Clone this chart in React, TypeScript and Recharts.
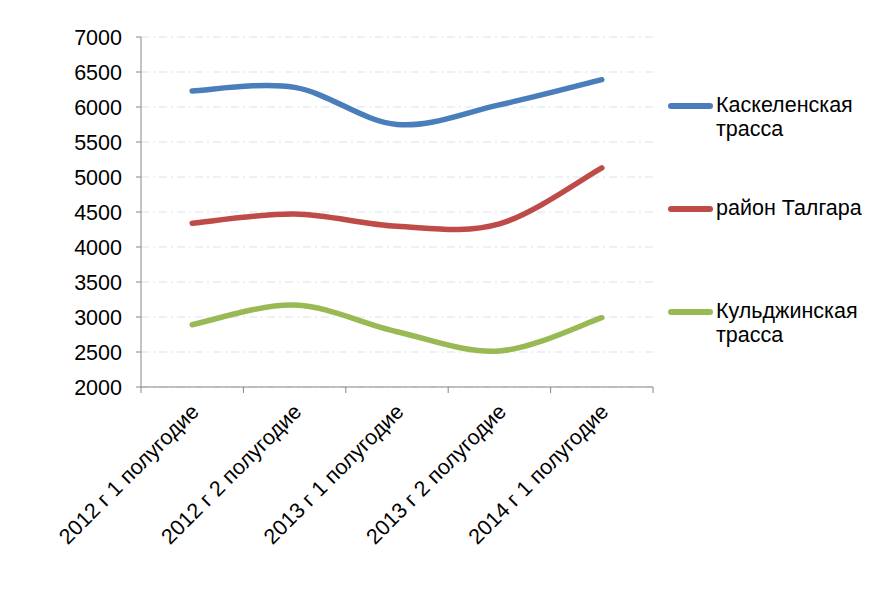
import { LineChart, Line, XAxis, YAxis, CartesianGrid, Legend } from "recharts";

const CATEGORIES = [
  "2012 г 1 полугодие",
  "2012 г 2 полугодие",
  "2013 г 1 полугодие",
  "2013 г 2 полугодие",
  "2014 г 1 полугодие",
];

const SERIES_NAMES = ["Каскеленская трасса", "район Талгара", "Кульджинская трасса"];

const KASKELEN = [6230, 6280, 5750, 6030, 6390];
const TALGAR = [4340, 4470, 4295, 4330, 5130];
const KULDZHA = [2890, 3170, 2790, 2515, 2990];

const Y_TICKS = [2000, 2500, 3000, 3500, 4000, 4500, 5000, 5500, 6000, 6500, 7000];

const FONT = "'Liberation Sans', Arial, sans-serif";
const FONT_SIZE = 21.5;
const AXIS_COLOR = "#868686";
const LABEL_GAP = 26;

// category slots 0..5, each point sits in the middle of its slot
const data = CATEGORIES.map((label, i) => ({
  pos: i + 0.5,
  label,
  kaskelen: KASKELEN[i],
  talgar: TALGAR[i],
  kuldzha: KULDZHA[i],
}));

// slot edges get a tick mark, slot centres get the label
const xTicks = CATEGORIES.flatMap((_, i) => [i, i + 0.5]).concat(CATEGORIES.length);

// Excel-like smoothed line (Catmull-Rom through every point)
function smoothCurve(context: any) {
  let pts: number[][] = [];
  return {
    areaStart() {},
    areaEnd() {},
    lineStart() {
      pts = [];
    },
    point(x: number, y: number) {
      pts.push([+x, +y]);
    },
    lineEnd() {
      if (!pts.length) return;
      context.moveTo(pts[0][0], pts[0][1]);
      for (let i = 0; i < pts.length - 1; i++) {
        const p0 = pts[i - 1] || pts[i];
        const p1 = pts[i];
        const p2 = pts[i + 1];
        const p3 = pts[i + 2] || p2;
        context.bezierCurveTo(
          p1[0] + (p2[0] - p0[0]) / 6,
          p1[1] + (p2[1] - p0[1]) / 6,
          p2[0] - (p3[0] - p1[0]) / 6,
          p2[1] - (p3[1] - p1[1]) / 6,
          p2[0],
          p2[1]
        );
      }
    },
  };
}

const CategoryTick = (props: any) => {
  const { x, y, payload } = props;
  const v = payload.value;
  if (Number.isInteger(v)) {
    const top = y - LABEL_GAP;
    return <line x1={x} y1={top} x2={x} y2={top + 6} stroke={AXIS_COLOR} strokeWidth={1} />;
  }
  const label = CATEGORIES[Math.floor(v)];
  const ax = x + 8;
  return (
    <text
      x={ax}
      y={y}
      textAnchor="end"
      transform={`rotate(-45, ${ax}, ${y})`}
      fontSize={FONT_SIZE}
      fontFamily={FONT}
      fill="#000"
    >
      {label}
    </text>
  );
};

const renderLegend = (props: any) => {
  const { payload } = props;
  const ordered = [...payload].sort(
    (a: any, b: any) => SERIES_NAMES.indexOf(a.value) - SERIES_NAMES.indexOf(b.value)
  );
  return (
    <div style={{ fontFamily: FONT }}>
      {ordered.map((entry: any) => (
        <div
          key={entry.value}
          style={{ display: "flex", alignItems: "flex-start", height: 103 }}
        >
          <span
            style={{
              width: 45,
              height: 6,
              borderRadius: 3,
              background: entry.color,
              marginTop: 10,
              marginRight: 3,
              flexShrink: 0,
            }}
          />
          <span style={{ width: 160, lineHeight: "24px", fontSize: FONT_SIZE, color: "#000" }}>
            {entry.value}
          </span>
        </div>
      ))}
    </div>
  );
};

export default function App() {
  return (
    <div style={{ position: "absolute", left: 0, top: 0, background: "#fff" }}>
      <LineChart
        width={886}
        height={591}
        data={data}
        margin={{ top: 37, right: 233, bottom: 0, left: 0 }}
      >
        <CartesianGrid vertical={false} stroke="#d9e2ef" strokeDasharray="8 4 2 4" />
        <XAxis
          dataKey="pos"
          type="number"
          domain={[0, CATEGORIES.length]}
          ticks={xTicks}
          interval={0}
          stroke={AXIS_COLOR}
          tickLine={false}
          tickSize={0}
          tickMargin={LABEL_GAP}
          height={204}
          tick={<CategoryTick />}
        />
        <YAxis
          type="number"
          domain={[2000, 7000]}
          ticks={Y_TICKS}
          interval={0}
          width={141}
          tickSize={5}
          tickMargin={14}
          stroke={AXIS_COLOR}
          tick={{ fill: "#000", fontSize: FONT_SIZE, fontFamily: FONT }}
        />
        <Legend
          layout="vertical"
          align="center"
          verticalAlign="middle"
          wrapperStyle={{ left: 668, top: 93, width: 215 }}
          content={renderLegend}
        />
        <Line
          name={SERIES_NAMES[0]}
          dataKey="kaskelen"
          type={smoothCurve as any}
          stroke="#4a7ebb"
          strokeWidth={5.5}
          strokeLinecap="round"
          dot={false}
          activeDot={false}
          isAnimationActive={false}
        />
        <Line
          name={SERIES_NAMES[1]}
          dataKey="talgar"
          type={smoothCurve as any}
          stroke="#be4b48"
          strokeWidth={5.5}
          strokeLinecap="round"
          dot={false}
          activeDot={false}
          isAnimationActive={false}
        />
        <Line
          name={SERIES_NAMES[2]}
          dataKey="kuldzha"
          type={smoothCurve as any}
          stroke="#98b954"
          strokeWidth={5.5}
          strokeLinecap="round"
          dot={false}
          activeDot={false}
          isAnimationActive={false}
        />
      </LineChart>
    </div>
  );
}
